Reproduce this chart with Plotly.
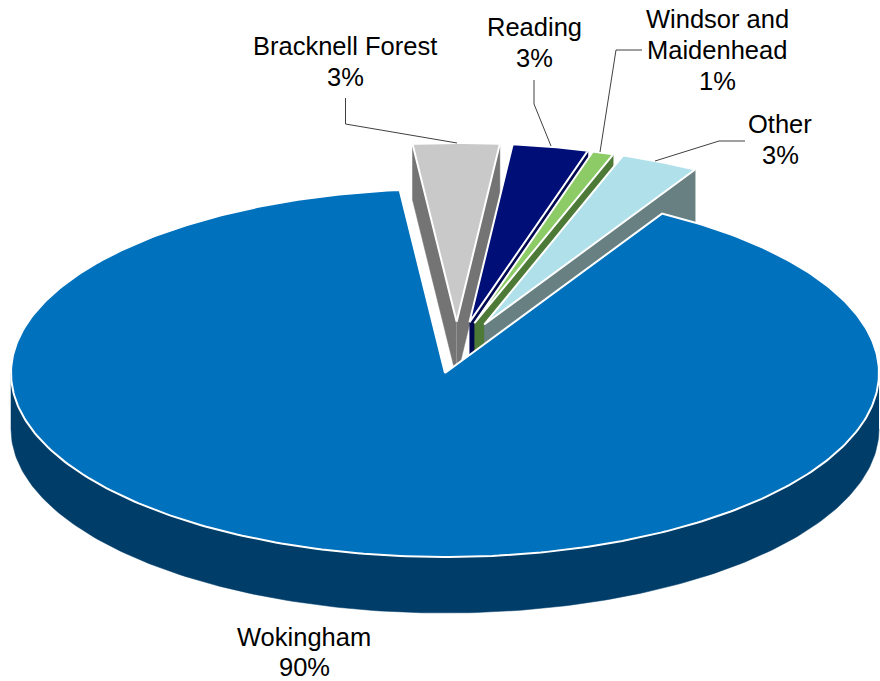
import numpy as np
import plotly.graph_objects as go

categories = ["Wokingham", "Bracknell Forest", "Reading", "Windsor and<br>Maidenhead", "Other"]
values = [90.0, 3.3, 2.9, 0.8, 3.0]
pct_labels = ["90%", "3%", "3%", "1%", "3%"]

face_colors = ["#0071BC", "#C9C9C9", "#000F78", "#8CCB66", "#B0E1EA"]
wall_colors = ["#003D69", "#747474", "#000850", "#4E7A38", "#698083"]

CX, CY, RX, SQ, DEPTH = 445.0, 373.0, 434.0, 0.424, 56.0
R_EXPL, EXPL_Y, SX, SY = 422.0, 70.0, 11.7, 21.5
EXPL_X = [0.0, 70.0, 66.0, 58.0, 66.0]
FIRST_ANGLE = 30.0
LINE_GAP = 30.8

label_pos = [(304, 652), (345, 61.5), (534, 42.5), (717, 50), (780, 139.5)]
leaders = [None,
           ([345.5, 345.5, 457], [98, 124, 143]),
           ([534, 534, 551], [80, 104, 146]),
           ([642, 616, 600], [50, 50, 152]),
           ([745, 719, 655], [141, 141, 161])]


def pt(cx, cy, r, deg):
    a = np.radians(deg)
    return cx + r * np.sin(a), cy - r * SQ * np.cos(a)


fig = go.Figure()


def poly(xs, ys, fill, line=None, width=0):
    fig.add_trace(go.Scatter(
        x=list(xs), y=list(ys), mode="lines", fill="toself", fillcolor=fill,
        line=dict(color=line or fill, width=width if line else 0.5),
        hoverinfo="skip", showlegend=False))


spans = []
a0 = FIRST_ANGLE
for v in values:
    a1 = a0 + v * 3.6
    spans.append((a0, a1))
    a0 = a1

for i in [1, 2, 3, 4]:
    s, e = spans[i]
    s_n, e_n = s - 360, e - 360
    mid = (s_n + e_n) / 2
    ax = CX + SX + EXPL_X[i] * np.sin(np.radians(mid))
    ay = CY - SY - EXPL_Y * SQ * np.cos(np.radians(mid))
    lx, ly = pt(ax, ay, R_EXPL, s_n)
    rx, ry = pt(ax, ay, R_EXPL, e_n)
    if s_n < 0:
        poly([ax, lx, lx, ax], [ay, ly, ly + DEPTH, ay + DEPTH], wall_colors[i])
    poly([ax, rx, rx, ax], [ay, ry, ry + DEPTH, ay + DEPTH], wall_colors[i])
    t = np.linspace(s_n, e_n, 20)
    ox, oy = pt(ax, ay, R_EXPL, t)
    poly(np.r_[ax, ox, ax], np.r_[ay, oy, ay], face_colors[i], "#FFFFFF", 2)

s, e = spans[0]
t = np.linspace(90, 270, 200)
ox, oy = pt(CX, CY, RX, t)
poly(np.r_[ox, ox[::-1]], np.r_[oy, oy[::-1] + DEPTH], wall_colors[0])
t = np.linspace(s, e, 400)
ox, oy = pt(CX, CY, RX, t)
poly(np.r_[CX, ox, CX], np.r_[CY, oy, CY], face_colors[0], "#FFFFFF", 2)

for ld in leaders:
    if ld:
        fig.add_trace(go.Scatter(x=ld[0], y=ld[1], mode="lines",
                                 line=dict(color="#404040", width=1),
                                 hoverinfo="skip", showlegend=False))

annotations = []
for c, l, p in zip(categories, pct_labels, label_pos):
    lines = c.split("<br>") + [l]
    top = p[1] - LINE_GAP * (len(lines) - 1) / 2
    for k, txt in enumerate(lines):
        annotations.append(dict(
            x=p[0], y=top + k * LINE_GAP, xref="x", yref="y", text=txt,
            showarrow=False, align="center",
            font=dict(family="Liberation Sans, Arial, sans-serif", size=25.5, color="#000000")))

fig.update_layout(
    width=880, height=681, autosize=False,
    margin=dict(l=0, r=0, t=0, b=0),
    paper_bgcolor="#FFFFFF", plot_bgcolor="#FFFFFF",
    xaxis=dict(range=[0, 880], visible=False, fixedrange=True),
    yaxis=dict(range=[681, 0], visible=False, fixedrange=True),
    annotations=annotations,
)
fig.write_html("out.html", config={"displayModeBar": False},
               post_script="document.body.style.margin='0';document.body.style.overflow='hidden';")
